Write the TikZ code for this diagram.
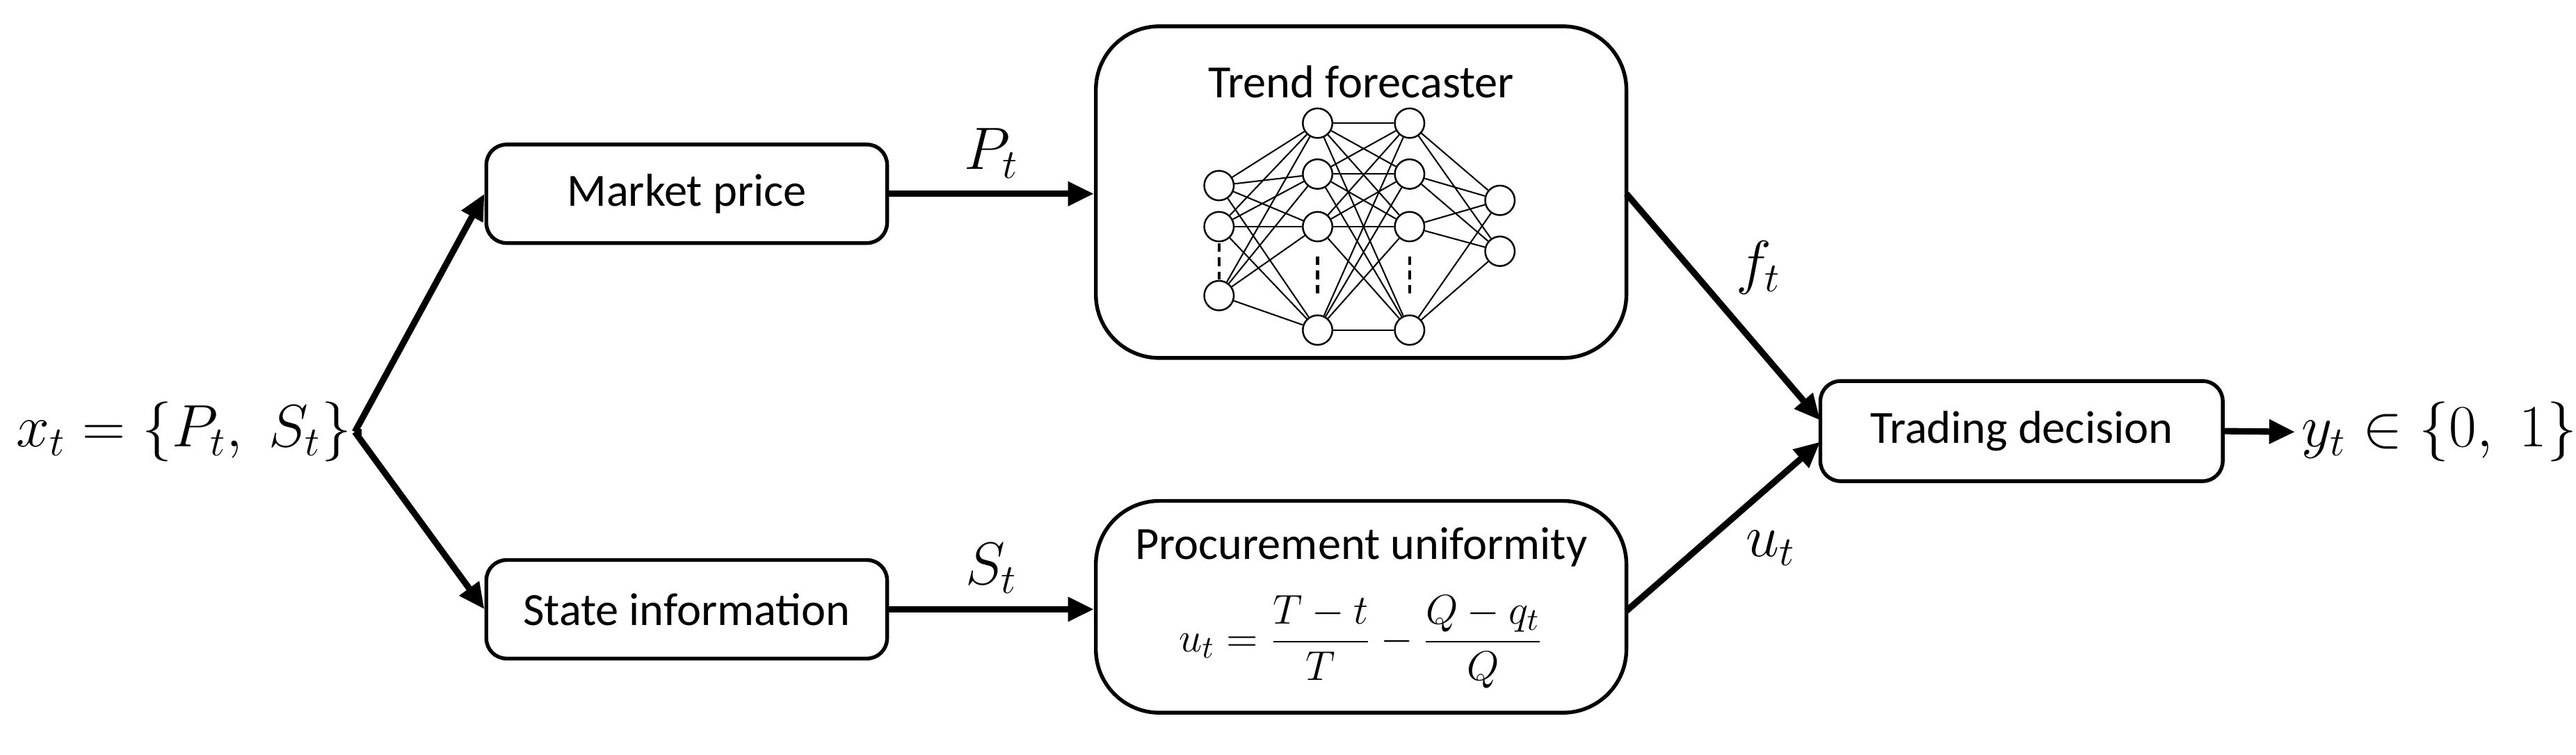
\documentclass[tikz,border=0pt]{standalone}
\usepackage{fontspec}
\setmainfont{Carlito}
\usepackage{amsmath}
\usetikzlibrary{arrows.meta}
\begin{document}
\begin{tikzpicture}[x=0.02cm,y=-0.02cm,
  box/.style={draw,line width=1.3pt,rounded corners=7pt,font=\fontsize{16}{19}\selectfont},
  big/.style={draw,line width=1.3pt,rounded corners=22pt},
  arr/.style={line width=2.2pt,-{Triangle[length=9pt,width=8pt]}},
  neu/.style={draw,circle,inner sep=0pt,minimum size=0.36cm,line width=0.6pt,fill=white},
  lbl/.style={font=\fontsize{20}{24}\selectfont}]
\useasboundingbox (0,0) rectangle (1568,459.6);
\node[lbl] (x) at (112,263) {$x_t=\{P_t,\;S_t\}$};
\coordinate (fork) at (216,263);
\node[box,minimum width=4.88cm,minimum height=1.2cm] (mp) at (418,118) {Market price};
\node[box,minimum width=4.88cm,minimum height=1.2cm] (si) at (418,371) {State information};
\node[big,minimum width=6.46cm,minimum height=4.04cm] (tf) at (828.5,117) {};
\node[font=\fontsize{16}{19}\selectfont] (tft) at (828.5,50) {Trend forecaster};
\node[big,minimum width=6.46cm,minimum height=2.58cm] (pu) at (828.5,369.5) {};
\node[font=\fontsize{16}{19}\selectfont,inner sep=1pt] (put) at (828.5,333) {Procurement uniformity};
\node[font=\fontsize{15}{18}\selectfont,inner sep=1pt] (puf) at (828.5,391) {$u_t=\dfrac{T-t}{T}-\dfrac{Q-q_t}{Q}$};
\node[box,minimum width=4.9cm,minimum height=1.22cm] (td) at (1230.5,262.5) {Trading decision};
\node[lbl,anchor=west,inner sep=2pt] (y) at (1397,263) {$y_t\in\{0,\;1\}$};
\draw[line width=2.2pt] (x.east) -- (fork);
\draw[arr] (fork) -- (mp.west);
\draw[arr] (fork) -- (si.west);
\draw[arr] (mp.east) -- (tf.west |- mp.east) node[lbl,midway,above=1pt] {$P_t$};
\draw[arr] (si.east) -- (pu.west |- si.east) node[lbl,midway,above=1pt] {$S_t$};
\coordinate (tfo) at (990,118);
\coordinate (puo) at (990,372);
\coordinate (tdi1) at (1108,256);
\coordinate (tdi2) at (1108,269);
\draw[arr] (tfo) -- (tdi1) node[lbl,pos=0.5,above right=0pt] {$f_t$};
\draw[arr] (puo) -- (tdi2) node[lbl,pos=0.55,below right=0pt] {$u_t$};
\draw[arr] (td.east) -- (y.west);
% neural network
\foreach \n/\yy in {1/113,2/138,3/180} \node[neu] (i\n) at (742,\yy) {};
\foreach \n/\yy in {1/75,2/106,3/138,4/201} {\node[neu] (a\n) at (802,\yy) {}; \node[neu] (b\n) at (858,\yy) {};}
\foreach \n/\yy in {1/122,2/153} \node[neu] (o\n) at (913,\yy) {};
\begin{scope}[line width=0.5pt]
\foreach \i in {1,2,3} \foreach \j in {1,2,3,4} \draw (i\i) -- (a\j);
\foreach \i in {1,2,3,4} \foreach \j in {1,2,3,4} \draw (a\i) -- (b\j);
\foreach \i in {1,2,3,4} \foreach \j in {1,2} \draw (b\i) -- (o\j);
\end{scope}
\draw[line width=1pt,dash pattern=on 3pt off 2pt] (742,148) -- (742,170);
\draw[line width=1pt,dash pattern=on 3pt off 2pt] (802,156) -- (802,180);
\draw[line width=1pt,dash pattern=on 3pt off 2pt] (858,156) -- (858,180);
\end{tikzpicture}
\end{document}
